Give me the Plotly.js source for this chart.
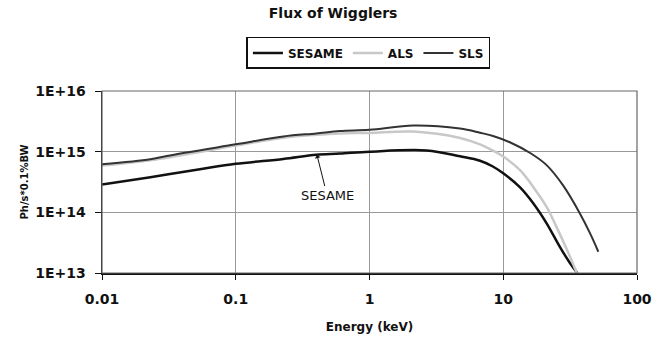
<!DOCTYPE html>
<html>
<head>
<meta charset="utf-8">
<script src="https://cdn.plot.ly/plotly-3.0.1.min.js"></script>
<style>html,body{margin:0;padding:0;background:#fff;}#chart{width:666px;height:340px;}</style>
</head>
<body>
<div id="chart"></div>
<script>
// Energy (keV) and flux (Ph/s*0.1%BW)
var sesameE = [0.01, 0.023, 0.054, 0.1, 0.227, 0.4, 0.6, 1, 2.67, 4.75, 6.7, 8.3, 10, 13.3, 16.8, 21.1, 26.5, 31.6, 35.8];
var sesameF = [2.88e14, 3.8e14, 5.13e14, 6.3e14, 7.6e14, 8.9e14, 9.3e14, 1.0e15, 1.05e15, 8.4e14, 7.1e14, 5.75e14, 4.4e14, 2.6e14, 1.4e14, 6.6e13, 2.7e13, 1.45e13, 1.0e13];

var alsE = [0.01, 0.023, 0.1, 0.227, 0.4, 0.6, 1, 2.13, 4.75, 6.7, 8.3, 10, 13.3, 16.8, 21.1, 25, 30, 35.5];
var alsF = [5.9e14, 7.2e14, 1.26e15, 1.7e15, 1.9e15, 2.0e15, 2.04e15, 2.14e15, 1.68e15, 1.32e15, 1.05e15, 8.3e14, 5.0e14, 2.6e14, 1.23e14, 5.75e13, 2.4e13, 1.0e13];

var slsE = [0.01, 0.023, 0.0305, 0.1, 0.227, 0.4, 0.6, 1, 2.13, 4.75, 6.7, 8.5, 11.2, 15.9, 21.1, 28.1, 37.5, 44.6, 51.4];
var slsF = [6.2e14, 7.5e14, 8.5e14, 1.32e15, 1.78e15, 2.0e15, 2.19e15, 2.29e15, 2.69e15, 2.4e15, 2.05e15, 1.8e15, 1.43e15, 9.5e14, 6.0e14, 2.75e14, 9.5e13, 4.5e13, 2.24e13];

var xTickVals = [0.01, 0.1, 1, 10, 100];
var xTickText = ["0.01", "0.1", "1", "10", "100"];
var yTickVals = [1e13, 1e14, 1e15, 1e16];
var yTickText = ["1E+13", "1E+14", "1E+15", "1E+16"];

var FONT = "DejaVu Sans, Liberation Sans, Arial, sans-serif";

var traces = [
  {x: sesameE, y: sesameF, name: "SESAME", mode: "lines", line: {color: "#111", width: 2.5, shape: "spline"}},
  {x: alsE, y: alsF, name: "ALS", mode: "lines", line: {color: "#c8c8c8", width: 2.5, shape: "spline"}},
  {x: slsE, y: slsF, name: "SLS", mode: "lines", line: {color: "#333", width: 2, shape: "spline"}}
];

var layout = {
  width: 666, height: 340,
  margin: {l: 102, r: 29, t: 91, b: 67},
  paper_bgcolor: "#fff", plot_bgcolor: "#fff",
  font: {family: FONT, color: "#111"},
  title: {text: "Flux of Wigglers", font: {size: 14, weight: "bold", family: FONT, color: "#111"},
          x: 0.432, xref: "paper", xanchor: "center", y: 0.962, yanchor: "middle"},
  showlegend: true,
  legend: {orientation: "h", x: 0.498, xanchor: "center", y: 1.297, yanchor: "top",
           bordercolor: "#111", borderwidth: 1.5, bgcolor: "#fff",
           font: {size: 12, weight: "bold", family: FONT, color: "#111"},
           itemwidth: 30, tracegroupgap: 0},
  xaxis: {type: "log", range: [-2, 2], tickvals: xTickVals, ticktext: xTickText,
          showgrid: true, gridcolor: "#999", gridwidth: 1,
          showline: true, linecolor: "#111", linewidth: 1.5,
          ticks: "outside", ticklen: 5, tickcolor: "#111", ticklabelstandoff: 8,
          tickfont: {size: 14, weight: "bold", family: FONT, color: "#111"},
          zeroline: false,
          title: {text: "Energy (keV)", font: {size: 12, weight: "bold", family: FONT, color: "#111"}, standoff: 16}},
  yaxis: {type: "log", range: [13, 16], tickvals: yTickVals, ticktext: yTickText,
          showgrid: true, gridcolor: "#999", gridwidth: 1,
          showline: true, linecolor: "#111", linewidth: 1.5,
          ticks: "outside", ticklen: 6, tickcolor: "#111", ticklabelstandoff: 6,
          tickfont: {size: 14, weight: "bold", family: FONT, color: "#111"},
          zeroline: false,
          title: {text: "Ph/s*0.1%BW", font: {size: 10, weight: "bold", family: FONT, color: "#111"}, standoff: 4}},
  shapes: [{type: "rect", xref: "paper", yref: "paper", x0: 0, x1: 1, y0: 0, y1: 1,
            line: {color: "#666", width: 1.2}, layer: "above"}],
  annotations: [{x: Math.log10(0.405), y: Math.log10(8.8e14), xref: "x", yref: "y",
                 text: "SESAME", showarrow: true, arrowhead: 1, arrowsize: 1, arrowwidth: 1,
                 arrowcolor: "#111", ax: 10, ay: 40,
                 font: {size: 13, family: FONT, color: "#111"}}]
};

Plotly.newPlot("chart", traces, layout, {displayModeBar: false, staticPlot: true});
</script>
</body>
</html>
